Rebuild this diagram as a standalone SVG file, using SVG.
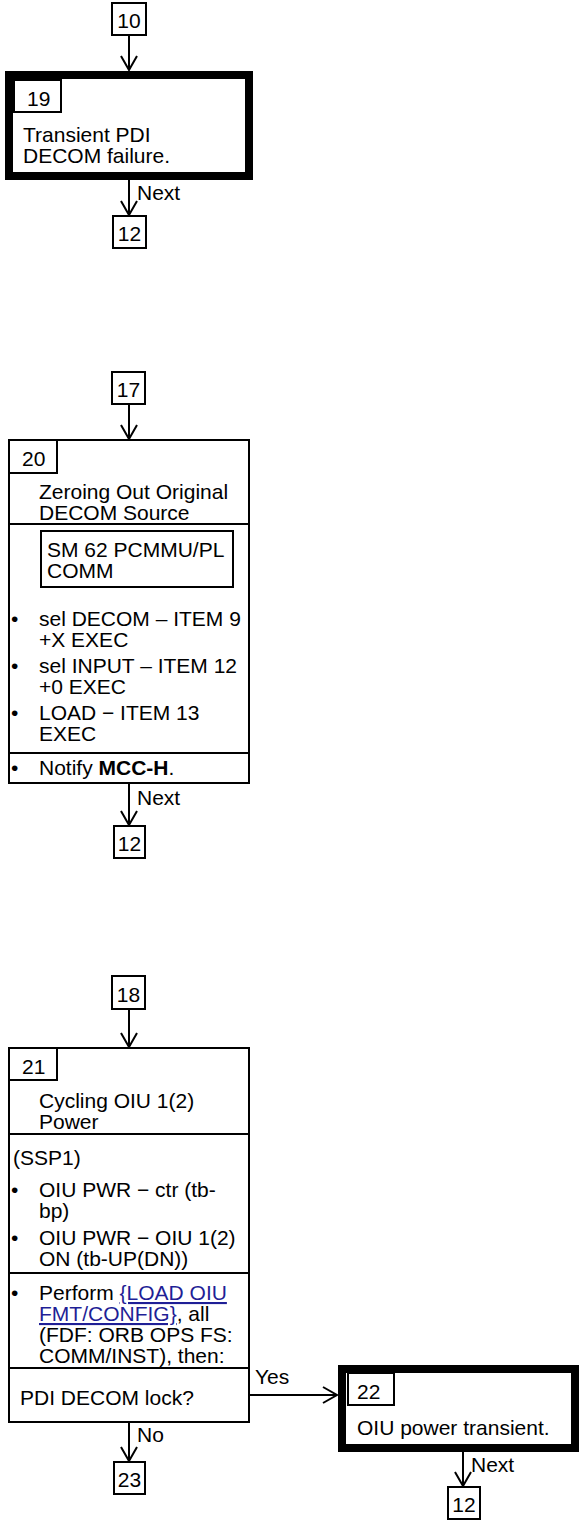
<svg xmlns="http://www.w3.org/2000/svg" width="580" height="1521" viewBox="0 0 580 1521">
<style>
text{font-family:"Liberation Sans",Arial,sans-serif;font-size:21px;fill:#000}
.box{fill:#fff;stroke:#000;stroke-width:2}
.thick{fill:#fff;stroke:#000;stroke-width:8}
.ln{stroke:#000;stroke-width:2;fill:none}
.ref{fill:#fff;stroke:#000;stroke-width:2}
.c{text-anchor:middle}
.link{fill:#1f1f96;text-decoration:underline}
</style>
<defs>
<marker id="ah" markerUnits="userSpaceOnUse" viewBox="-16 -10 18 20" refX="0" refY="0" markerWidth="18" markerHeight="20" orient="auto">
<path d="M-14,-8 L0,0 L-14,8" fill="none" stroke="#000" stroke-width="2"/>
</marker>
</defs>
<rect width="580" height="1521" fill="#fff"/>

<g id="connectors">
<line class="ln" x1="129" y1="35" x2="129" y2="70" marker-end="url(#ah)"/>
<line class="ln" x1="129" y1="180" x2="129" y2="215" marker-end="url(#ah)"/>
<text x="137" y="200">Next</text>
<line class="ln" x1="129" y1="404" x2="129" y2="439" marker-end="url(#ah)"/>
<line class="ln" x1="129" y1="783" x2="129" y2="825" marker-end="url(#ah)"/>
<text x="137" y="805">Next</text>
<line class="ln" x1="129" y1="1009" x2="129" y2="1047" marker-end="url(#ah)"/>
<line class="ln" x1="129" y1="1422" x2="129" y2="1461" marker-end="url(#ah)"/>
<text x="137" y="1442">No</text>
<line class="ln" x1="249" y1="1395" x2="337" y2="1395" marker-end="url(#ah)"/>
<text x="255" y="1384">Yes</text>
<line class="ln" x1="463" y1="1452" x2="463" y2="1486" marker-end="url(#ah)"/>
<text x="471" y="1472">Next</text>
</g>

<g id="ref10"><rect class="ref" x="112" y="3" width="34" height="32"/><text class="c" x="129" y="28">10</text></g>
<g id="ref12a"><rect class="ref" x="113" y="216" width="33" height="32"/><text class="c" x="129.5" y="241">12</text></g>
<g id="ref17"><rect class="ref" x="112" y="372" width="33" height="32"/><text class="c" x="128.5" y="397">17</text></g>
<g id="ref12b"><rect class="ref" x="114" y="826" width="31" height="32"/><text class="c" x="129.5" y="851">12</text></g>
<g id="ref18"><rect class="ref" x="112" y="976" width="33" height="33"/><text class="c" x="128.5" y="1002">18</text></g>
<g id="ref23"><rect class="ref" x="114" y="1462" width="31" height="32"/><text class="c" x="129.5" y="1487">23</text></g>
<g id="ref12c"><rect class="ref" x="448" y="1487" width="32" height="32"/><text class="c" x="464" y="1512">12</text></g>

<g id="node19">
<rect class="thick" x="9" y="75" width="240" height="101"/>
<rect class="box" x="14" y="80" width="47" height="32"/>
<text x="27" y="106">19</text>
<text x="23" y="142">Transient PDI</text>
<text x="23" y="163">DECOM failure.</text>
</g>

<g id="node20">
<rect class="box" x="9" y="440" width="240" height="343"/>
<rect class="box" x="9" y="440" width="48" height="33"/>
<text x="22" y="466">20</text>
<text x="39" y="499">Zeroing Out Original</text>
<text x="39" y="520">DECOM Source</text>
<line class="ln" x1="9" y1="524" x2="249" y2="524"/>
<rect class="box" x="41" y="531" width="192" height="56"/>
<text x="47" y="557">SM 62 PCMMU/PL</text>
<text x="47" y="578">COMM</text>
<text x="11" y="626">•</text>
<text x="39" y="626">sel DECOM – ITEM 9</text>
<text x="39" y="647">+X EXEC</text>
<text x="11" y="673">•</text>
<text x="39" y="673">sel INPUT – ITEM 12</text>
<text x="39" y="694">+0 EXEC</text>
<text x="11" y="720">•</text>
<text x="39" y="720">LOAD − ITEM 13</text>
<text x="39" y="741">EXEC</text>
<line class="ln" x1="9" y1="753" x2="249" y2="753"/>
<text x="11" y="775">•</text>
<text x="39" y="775">Notify <tspan font-weight="bold">MCC-H</tspan>.</text>
</g>

<g id="node21">
<rect class="box" x="9" y="1048" width="240" height="374"/>
<rect class="box" x="9" y="1048" width="48" height="32"/>
<text x="22" y="1074">21</text>
<text x="39" y="1108">Cycling OIU 1(2)</text>
<text x="39" y="1129">Power</text>
<line class="ln" x1="9" y1="1134" x2="249" y2="1134"/>
<text x="13" y="1165">(SSP1)</text>
<text x="11" y="1197">•</text>
<text x="39" y="1197">OIU PWR − ctr (tb-</text>
<text x="39" y="1218">bp)</text>
<text x="11" y="1245">•</text>
<text x="39" y="1245">OIU PWR − OIU 1(2)</text>
<text x="39" y="1266">ON (tb-UP(DN))</text>
<line class="ln" x1="9" y1="1273" x2="249" y2="1273"/>
<text x="11" y="1300">•</text>
<text x="39" y="1300">Perform <tspan class="link">{LOAD OIU</tspan></text>
<text x="39" y="1321"><tspan class="link">FMT/CONFIG}</tspan>, all</text>
<text x="39" y="1342">(FDF: ORB OPS FS:</text>
<text x="39" y="1363">COMM/INST), then:</text>
<line class="ln" x1="9" y1="1368" x2="249" y2="1368"/>
<text x="20" y="1405">PDI DECOM lock?</text>
</g>

<g id="node22">
<rect class="thick" x="342" y="1369" width="233" height="79"/>
<rect class="box" x="348" y="1373" width="46" height="32"/>
<text x="357" y="1399">22</text>
<text x="357" y="1435">OIU power transient.</text>
</g>
</svg>
